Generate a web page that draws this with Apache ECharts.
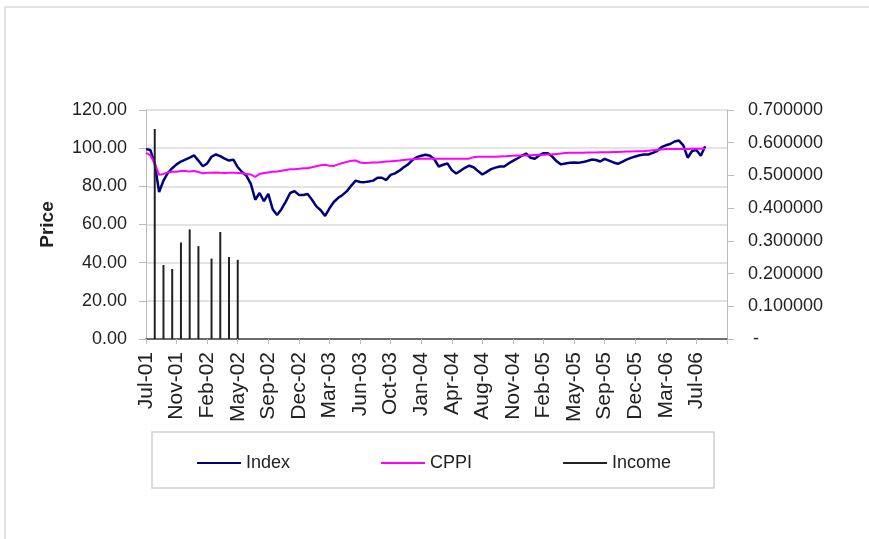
<!DOCTYPE html>
<html>
<head>
<meta charset="utf-8">
<title>Index vs CPPI</title>
<script src="https://cdn.jsdelivr.net/npm/echarts@6/dist/echarts.min.js"></script>
<style>
  html, body { margin: 0; padding: 0; background: #fff; }
  #chart { width: 869px; height: 539px; }
</style>
</head>
<body>
<div id="chart"></div>
<script>
// x axis: one category per ~2 weeks of trading, a date label every 7th one
const tickLabels = ["Jul-01", "Nov-01", "Feb-02", "May-02", "Sep-02", "Dec-02", "Mar-03",
  "Jun-03", "Oct-03", "Jan-04", "Apr-04", "Aug-04", "Nov-04", "Feb-05", "May-05",
  "Sep-05", "Dec-05", "Mar-06", "Jul-06"];
const periodsPerLabel = 7;
const periodCount = 134;

const indexValues = [
  99.5, 99, 92, 77, 83, 87, 89.5, 91.5, 93, 94,
  95, 96.2, 93.5, 90.5, 92, 95.5, 96.7, 95.8, 94.5, 93.5,
  94, 90, 87.5, 85.5, 81.3, 73, 76.5, 72.2, 76, 68,
  65, 68, 72, 76.5, 77.5, 75.5, 75.5, 76, 73, 69.5,
  67.5, 64.5, 68.5, 71.8, 74, 75.5, 77.5, 80.4, 83, 82.3,
  82.2, 82.5, 83, 84.5, 84.5, 83.3, 86, 86.8, 88.2, 90,
  91.5, 93.8, 95.3, 96, 96.5, 96, 94.2, 90.4, 91.3, 92,
  88.5, 86.7, 88.2, 89.7, 90.8, 90, 88, 86.2, 87.6, 89,
  89.8, 90.4, 90.4, 92, 93.3, 94.6, 96, 97.2, 95, 94.5,
  96.2, 97.4, 97.3, 95.6, 93.1, 91.5, 92, 92.3, 92.5, 92.3,
  92.7, 93.3, 94, 93.8, 93, 94.4, 93.5, 92.5, 91.8, 92.8,
  94, 94.9, 95.6, 96.3, 96.7, 96.7, 97.5, 98.5, 100.5, 101.5,
  102.2, 103.5, 104, 101.5, 95, 98.5, 99, 96, 101
];

const cppiValues = [
  97.6, 96.2, 92, 86, 86.5, 87.3, 87.6, 87.6, 88, 88,
  87.8, 88, 87.5, 86.8, 87.1, 87.1, 87.3, 87.1, 87, 87.1,
  87.1, 87, 86.8, 86.5, 86.2, 84.9, 86.5, 87, 87.3, 87.6,
  87.8, 88.2, 88.6, 88.9, 89, 89.2, 89.5, 89.5, 90, 90.5,
  91, 91.3, 90.8, 90.7, 91.5, 92.2, 92.8, 93.4, 93.6, 92.5,
  92.2, 92.3, 92.5, 92.5, 92.7, 93, 93.1, 93.3, 93.5, 93.8,
  94, 94.2, 94.3, 94.4, 94.4, 94.4, 94.4, 94.4, 94.4, 94.4,
  94.4, 94.4, 94.4, 94.4, 94.5, 95.3, 95.5, 95.5, 95.5, 95.5,
  95.5, 95.6, 95.7, 95.9, 96, 96.2, 96.2, 96.2, 96.3, 96.4,
  96.5, 96.6, 96.7, 96.8, 97, 97.2, 97.5, 97.6, 97.6, 97.6,
  97.6, 97.7, 97.7, 97.7, 97.8, 97.8, 97.9, 98, 98, 98.1,
  98.2, 98.3, 98.4, 98.4, 98.5, 98.7, 98.9, 99.1, 99.3, 99.5,
  99.5, 99.5, 99.6, 99.6, 99.6, 99.7, 99.7, 99.7, 99.8
];

// income payments (secondary axis): period index and amount
const incomeAt = [2, 4, 6, 8, 10, 12, 15, 17, 19, 21];
const incomeValues = [0.642, 0.226, 0.214, 0.295, 0.335, 0.284, 0.246, 0.327, 0.251, 0.242];

const FONT = "'Liberation Sans', Arial, sans-serif";
const categories = Array.from({ length: periodCount }, (_, i) => "p" + i);

const chart = echarts.init(document.getElementById("chart"));

const option = {
  animation: false,
  backgroundColor: "#fff",
  textStyle: { fontFamily: FONT, color: "#222" },
  graphic: [
    {
      type: "rect",
      z: -10,
      shape: { x: 5, y: 7, width: 900, height: 600 },
      style: { fill: "none", stroke: "#d9d9d9", lineWidth: 1.5 },
    },
    {
      type: "rect",
      z: -10,
      shape: { x: 152, y: 432, width: 562, height: 56 },
      style: { fill: "#fff", stroke: "#d0d0d0", lineWidth: 1.5 },
    },
  ],
  grid: {
    left: 146,
    right: 142,
    top: 110,
    bottom: 200,
  },
  legend: {
    left: 192,
    top: 449,
    icon: "rect",
    itemWidth: 44,
    itemHeight: 2,
    itemGap: 91,
    textStyle: { fontFamily: FONT, fontSize: 18, color: "#222" },
    data: ["Index", "CPPI", "Income"],
  },
  xAxis: {
    type: "category",
    data: categories,
    boundaryGap: false,
    axisLine: { lineStyle: { color: "#444", width: 1.5 } },
    axisTick: {
      interval: periodsPerLabel - 1,
      length: 5,
      lineStyle: { color: "#bbb" },
    },
    axisLabel: {
      interval: periodsPerLabel - 1,
      rotate: 90,
      margin: 13,
      fontSize: 21,
      color: "#222",
      fontFamily: FONT,
      formatter: (v, idx) => tickLabels[idx / periodsPerLabel] || "",
    },
    splitLine: { show: false },
  },
  yAxis: [
    {
      type: "value",
      name: "Price",
      nameLocation: "middle",
      nameGap: 89,
      nameTextStyle: { fontSize: 19, fontWeight: "bold", color: "#222", fontFamily: FONT },
      min: 0,
      max: 120,
      interval: 20,
      axisLine: { show: true, lineStyle: { color: "#bbb" } },
      axisTick: { show: true, length: 7, lineStyle: { color: "#bbb" } },
      axisLabel: {
        margin: 19,
        fontSize: 18,
        color: "#222",
        fontFamily: FONT,
        formatter: v => v.toFixed(2),
      },
      splitLine: { lineStyle: { color: "#dadada", width: 1.5 } },
    },
    {
      type: "value",
      position: "right",
      min: 0,
      max: 0.7,
      interval: 0.1,
      axisLine: { show: true, lineStyle: { color: "#bbb" } },
      axisTick: { show: true, length: 7, lineStyle: { color: "#bbb" } },
      axisLabel: {
        margin: 21,
        fontSize: 18,
        color: "#222",
        fontFamily: FONT,
        formatter: v => (v === 0 ? " -" : v.toFixed(6)),
      },
      splitLine: { show: false },
    },
  ],
  series: [
    {
      name: "Index",
      type: "line",
      data: indexValues,
      showSymbol: false,
      color: "#000080",
      lineStyle: { color: "#000080", width: 2.5 },
      z: 3,
    },
    {
      name: "CPPI",
      type: "line",
      data: cppiValues,
      showSymbol: false,
      color: "#ff00ff",
      lineStyle: { color: "#ff00ff", width: 2 },
      z: 4,
    },
    {
      name: "Income",
      type: "bar",
      yAxisIndex: 1,
      barWidth: 2,
      color: "#222",
      itemStyle: { color: "#222" },
      data: incomeAt.map((c, k) => [c, incomeValues[k]]),
      z: 5,
    },
  ],
};

chart.setOption(option);
</script>
</body>
</html>
